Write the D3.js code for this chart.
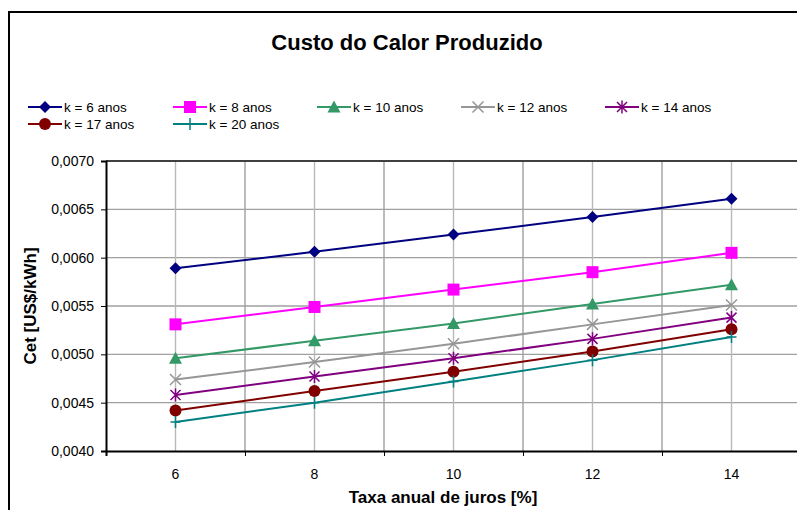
<!DOCTYPE html>
<html><head><meta charset="utf-8">
<script src="https://cdn.jsdelivr.net/npm/d3@7"></script>
<style>html,body{margin:0;padding:0;background:#fff;} svg{display:block;font-family:"Liberation Sans",Arial,sans-serif;}</style>
</head><body>
<svg id="c" width="797" height="510"></svg>
<script>
const rates = [6, 8, 10, 12, 14];
const seriesNames = ["k = 6 anos","k = 8 anos","k = 10 anos","k = 12 anos","k = 14 anos","k = 17 anos","k = 20 anos"];
const k6  = [0.00589, 0.00606, 0.00624, 0.00642, 0.00661];
const k8  = [0.00531, 0.00549, 0.00567, 0.00585, 0.00605];
const k10 = [0.00496, 0.00514, 0.00532, 0.00552, 0.00572];
const k12 = [0.00474, 0.00492, 0.00511, 0.00531, 0.00551];
const k14 = [0.00458, 0.00477, 0.00496, 0.00516, 0.00538];
const k17 = [0.00442, 0.00462, 0.00482, 0.00503, 0.00526];
const k20 = [0.00430, 0.00450, 0.00472, 0.00494, 0.00518];
const yTicks = [0.0040, 0.0045, 0.0050, 0.0055, 0.0060, 0.0065, 0.0070];
const xGrid = [5,6,7,8,9,10,11,12,13,14,15];
const xMajorTicks = [5,7,9,11,13,15];
const xLabels = [6,8,10,12,14];

const colors = ["#000080","#FF00FF","#339966","#969696","#800080","#800000","#008080"];
const markers = ["diamond","square","triangle","x","star","circle","plus"];
const allSeries = [k6,k8,k10,k12,k14,k17,k20];

const svg = d3.select("#c");
const x = d3.scaleLinear().domain([5,15]).range([106,801]);
const y = d3.scaleLinear().domain([0.004,0.007]).range([451,161]);
const loc = d3.formatLocale({decimal:",", thousands:".", grouping:[3], currency:["",""]});
const fmt = loc.format(".4f");

// outer frame
svg.append("rect").attr("x",9).attr("y",12).attr("width",900).attr("height",600)
  .attr("fill","none").attr("stroke","#000").attr("stroke-width",2);

// title
svg.append("text").attr("x",407).attr("y",50).attr("text-anchor","middle")
  .attr("font-size",22).attr("font-weight","bold").text("Custo do Calor Produzido");

// gridlines
const grid = svg.append("g");
grid.selectAll("line.h").data(yTicks.slice(1,-1)).join("line")
  .attr("x1",x(5)).attr("x2",x(15)).attr("y1",d=>y(d)).attr("y2",d=>y(d))
  .attr("stroke","#a0a0a0").attr("stroke-width",1.4);
grid.selectAll("line.v").data(xGrid.slice(1)).join("line")
  .attr("x1",d=>x(d)).attr("x2",d=>x(d)).attr("y1",y(0.007)).attr("y2",y(0.004))
  .attr("stroke",d=>d%2===0?"#b8b8b8":"#a0a0a0").attr("stroke-width",1.4);
// plot top border
svg.append("line").attr("x1",x(5)).attr("x2",x(15)).attr("y1",y(0.007)).attr("y2",y(0.007))
  .attr("stroke","#404040").attr("stroke-width",2);

// y axis
const yAxis = d3.axisLeft(y).tickValues(yTicks).tickFormat(fmt).tickSize(5).tickPadding(7);
const ya = svg.append("g").attr("transform",`translate(${x(5)},0)`).call(yAxis);
ya.select(".domain").attr("stroke","#000").attr("stroke-width",2);
ya.selectAll("text").attr("font-size",14).attr("font-family","Liberation Sans, Arial, sans-serif").attr("fill","#000");

// x axis
const xAxis = d3.axisBottom(x).tickValues(xMajorTicks).tickFormat("").tickSize(5);
const xa = svg.append("g").attr("transform",`translate(0,${y(0.004)})`).call(xAxis);
xa.select(".domain").attr("stroke","#000").attr("stroke-width",2);
svg.selectAll("text.xl").data(xLabels).join("text").attr("class","xl")
  .attr("x",d=>x(d)).attr("y",479).attr("text-anchor","middle").attr("font-size",14).text(d=>d);

// axis titles
svg.append("text").attr("x",443).attr("y",503).attr("text-anchor","middle")
  .attr("font-size",17).attr("font-weight","bold").text("Taxa anual de juros [%]");
svg.append("text").attr("transform",`translate(36,${(y(0.007)+y(0.004))/2}) rotate(-90)`)
  .attr("text-anchor","middle").attr("font-size",17).attr("font-weight","bold").text("Cet [US$/kWh]");

function drawMarker(g, type, color, cx, cy){
  const s = g.append("g").attr("transform",`translate(${cx},${cy})`);
  if(type==="diamond"){
    s.append("path").attr("d","M0,-6L6,0L0,6L-6,0Z").attr("fill",color);
  } else if(type==="square"){
    s.append("rect").attr("x",-6).attr("y",-6).attr("width",12).attr("height",12).attr("fill",color);
  } else if(type==="triangle"){
    s.append("path").attr("d","M0,-6.5L6.5,5.5L-6.5,5.5Z").attr("fill",color);
  } else if(type==="circle"){
    s.append("circle").attr("r",6).attr("fill",color);
  } else if(type==="x"){
    s.append("path").attr("d","M-5.5,-5.5L5.5,5.5M-5.5,5.5L5.5,-5.5").attr("stroke",color).attr("stroke-width",1.5);
  } else if(type==="star"){
    s.append("path").attr("d","M-5,-5L5,5M-5,5L5,-5M0,-6.5L0,6.5").attr("stroke",color).attr("stroke-width",1.5);
  } else if(type==="plus"){
    s.append("path").attr("d","M0,-6L0,6M-5,0L5,0").attr("stroke",color).attr("stroke-width",1.5);
  }
}

const line = d3.line().x((d,i)=>x(rates[i])).y(d=>y(d));
const plot = svg.append("g");
allSeries.forEach((vals,si)=>{
  plot.append("path").datum(vals).attr("d",line).attr("fill","none")
    .attr("stroke",colors[si]).attr("stroke-width",2);
});
allSeries.forEach((vals,si)=>{
  vals.forEach((v,i)=>drawMarker(plot, markers[si], colors[si], x(rates[i]), y(v)));
});

// legend
const legPos = [[28,107],[173,107],[317,107],[461,107],[605,107],[28,124],[173,124]];
const leg = svg.append("g");
seriesNames.forEach((n,i)=>{
  const [lx,ly] = legPos[i];
  leg.append("line").attr("x1",lx).attr("x2",lx+34).attr("y1",ly).attr("y2",ly)
    .attr("stroke",colors[i]).attr("stroke-width",2);
  drawMarker(leg, markers[i], colors[i], lx+17, ly);
  leg.append("text").attr("x",lx+36).attr("y",ly+5).attr("font-size",13.5).text(n);
});
</script>
</body></html>
